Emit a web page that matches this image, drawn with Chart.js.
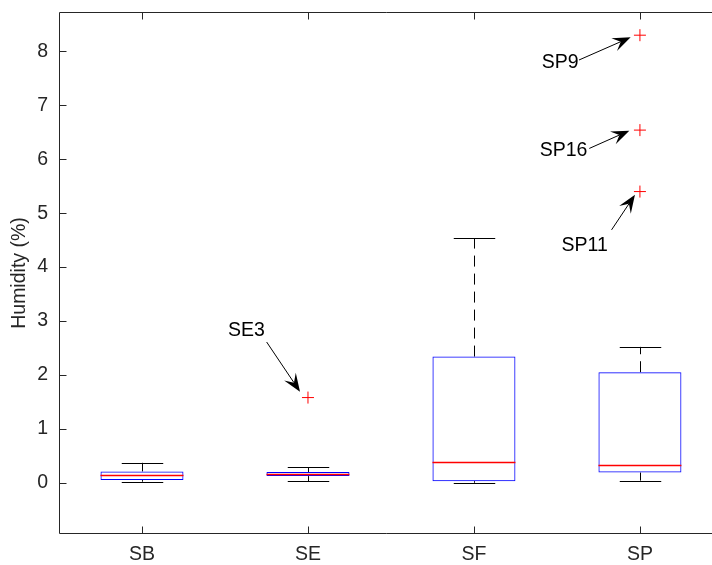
<!DOCTYPE html>
<html>
<head>
<meta charset="utf-8">
<script src="https://cdn.jsdelivr.net/npm/chart.js@4.4.1/dist/chart.umd.min.js"></script>
<style>
html,body{margin:0;padding:0;background:#fff;overflow:hidden;}
#wrap{width:712px;height:565px;}
</style>
</head>
<body>
<div id="wrap"><canvas id="c" width="712" height="565"></canvas></div>
<script>
// ---- data ----
const categories = ['SB', 'SE', 'SF', 'SP'];
const whiskerLow  = [0.02, 0.03, 0.00, 0.04];
const q1          = [0.05, 0.124, 0.03, 0.19];
const median      = [0.137, 0.167, 0.384, 0.33];
const q3          = [0.21, 0.20, 2.34, 2.05];
const whiskerHigh = [0.37, 0.286, 4.53, 2.52];
const outlierCat  = [1, 3, 3, 3];
const outlierVal  = [1.58, 8.30, 6.54, 5.40];
const yTickValues = [0, 1, 2, 3, 4, 5, 6, 7, 8];
// annotation labels (anchored in data coordinates)
const noteText  = ['SE3', 'SP9', 'SP16', 'SP11'];
const noteX     = [0.629, 2.52, 2.54, 2.667];
const noteY     = [2.84, 7.81, 6.17, 4.41];
const arrowX0   = [0.751, 2.633, 2.695, 2.829];
const arrowY0   = [2.61, 7.84, 6.20, 4.69];
const arrowX1   = [0.952, 2.944, 2.936, 2.97];
const arrowY1   = [1.69, 8.26, 6.53, 5.34];

const FAMILY = '"Liberation Sans", Arial, sans-serif';
const FONT = '19.5px ' + FAMILY;
const AX = '#262626';

const boxPlugin = {
  id: 'boxPlugin',
  beforeDatasetsDraw(chart) {
    const {ctx, scales: {x, y}} = chart;
    const u = x.getPixelForValue(1) - x.getPixelForValue(0);
    ctx.save();
    ctx.strokeStyle = '#000';
    ctx.lineWidth = 1;
    categories.forEach((c, i) => {
      const px = Math.round(x.getPixelForValue(i)) + 0.5;
      ctx.setLineDash([11, 7]);
      ctx.beginPath();
      ctx.moveTo(px, y.getPixelForValue(q3[i]));
      ctx.lineTo(px, y.getPixelForValue(whiskerHigh[i]));
      ctx.moveTo(px, y.getPixelForValue(q1[i]));
      ctx.lineTo(px, y.getPixelForValue(whiskerLow[i]));
      ctx.stroke();
      ctx.setLineDash([]);
      const hw = u * 0.125;
      [whiskerHigh[i], whiskerLow[i]].forEach(v => {
        const py = Math.round(y.getPixelForValue(v)) + 0.5;
        ctx.beginPath();
        ctx.moveTo(px - hw, py);
        ctx.lineTo(px + hw, py);
        ctx.stroke();
      });
    });
    ctx.restore();
  },
  afterDatasetsDraw(chart) {
    const {ctx, chartArea: a, scales: {x, y}} = chart;
    const u = x.getPixelForValue(1) - x.getPixelForValue(0);
    ctx.save();
    ctx.strokeStyle = '#ff0000';
    ctx.lineWidth = 1.3;
    categories.forEach((c, i) => {
      const px = x.getPixelForValue(i);
      const py = Math.round(y.getPixelForValue(median[i])) + 0.5;
      ctx.beginPath();
      ctx.moveTo(px - u * 0.25, py);
      ctx.lineTo(px + u * 0.25, py);
      ctx.stroke();
    });
    // frame (right edge lies outside the picture)
    ctx.strokeStyle = AX;
    ctx.lineWidth = 1;
    const L = Math.round(a.left) + 0.5, R = chart.width + 2;
    const T = Math.round(a.top) + 0.5, B = Math.round(a.bottom) - 0.5;
    ctx.beginPath();
    ctx.moveTo(R, T); ctx.lineTo(L, T); ctx.lineTo(L, B); ctx.lineTo(R, B);
    ctx.stroke();
    const tl = 7;
    ctx.beginPath();
    yTickValues.forEach(v => {
      const py = Math.round(y.getPixelForValue(v)) + 0.5;
      ctx.moveTo(L, py); ctx.lineTo(L + tl, py);
    });
    categories.forEach((c, i) => {
      const px = Math.round(x.getPixelForValue(i)) + 0.5;
      ctx.moveTo(px, B); ctx.lineTo(px, B - tl);
      ctx.moveTo(px, T); ctx.lineTo(px, T + tl);
    });
    ctx.stroke();
    // annotations
    ctx.fillStyle = '#000';
    ctx.strokeStyle = '#000';
    ctx.font = FONT;
    ctx.textAlign = 'center';
    ctx.textBaseline = 'middle';
    noteText.forEach((t, i) => {
      ctx.fillText(t, x.getPixelForValue(noteX[i]), y.getPixelForValue(noteY[i]) + 1);
      const x0 = x.getPixelForValue(arrowX0[i]), y0 = y.getPixelForValue(arrowY0[i]);
      const x1 = x.getPixelForValue(arrowX1[i]), y1 = y.getPixelForValue(arrowY1[i]);
      const ang = Math.atan2(y1 - y0, x1 - x0);
      const hl = 18, hwid = 7;
      const ca = Math.cos(ang), sa = Math.sin(ang);
      const bx = x1 - hl * ca, by = y1 - hl * sa;
      const nx = x1 - hl * 0.6 * ca, ny = y1 - hl * 0.6 * sa;
      ctx.lineWidth = 1;
      ctx.beginPath();
      ctx.moveTo(x0, y0);
      ctx.lineTo(nx, ny);
      ctx.stroke();
      ctx.beginPath();
      ctx.moveTo(x1, y1);
      ctx.lineTo(bx - hwid * sa, by + hwid * ca);
      ctx.lineTo(nx, ny);
      ctx.lineTo(bx + hwid * sa, by - hwid * ca);
      ctx.closePath();
      ctx.fill();
    });
    ctx.restore();
  }
};

new Chart(document.getElementById('c'), {
  type: 'bar',
  data: {
    datasets: [
      {
        type: 'bar',
        data: categories.map((c, i) => ({x: i, y: [q1[i], q3[i]]})),
        borderColor: '#0000ff',
        backgroundColor: 'rgba(0,0,0,0)',
        borderWidth: 1,
        borderSkipped: false,
        barPercentage: 0.5,
        categoryPercentage: 1,
        grouped: false
      },
      {
        type: 'scatter',
        data: outlierCat.map((c, i) => ({x: c, y: outlierVal[i]})),
        pointStyle: 'cross',
        radius: 6,
        borderColor: '#ff0000',
        borderWidth: 1,
        showLine: false
      }
    ]
  },
  options: {
    responsive: false,
    animation: false,
    devicePixelRatio: 1,
    layout: {padding: {left: 0, top: 12, right: 0, bottom: 0}},
    plugins: {legend: {display: false}, tooltip: {enabled: false}},
    scales: {
      x: {
        type: 'linear',
        min: -0.5,
        max: 3.392,
        offset: false,
        grid: {display: false, drawTicks: false},
        border: {display: false},
        afterBuildTicks: s => { s.ticks = categories.map((c, i) => ({value: i})); },
        afterFit: s => { s.height = 31; s.paddingLeft = 0; s.paddingRight = 0; },
        ticks: {
          autoSkip: false,
          maxRotation: 0,
          padding: 9,
          color: AX,
          font: {family: FAMILY, size: 19.5},
          callback: v => categories[v]
        }
      },
      y: {
        type: 'linear',
        min: -0.95,
        max: 8.73,
        grid: {display: false, drawTicks: false},
        border: {display: false},
        afterBuildTicks: s => { s.ticks = yTickValues.map(v => ({value: v})); },
        afterFit: s => { s.width = 59; s.paddingTop = 0; s.paddingBottom = 0; },
        ticks: {
          padding: 11,
          color: AX,
          font: {family: FAMILY, size: 19.5}
        },
        title: {
          display: true,
          text: 'Humidity (%)',
          color: AX,
          font: {family: FAMILY, size: 19.5},
          padding: {top: 8, bottom: 0}
        }
      }
    }
  },
  plugins: [boxPlugin]
});
</script>
</body>
</html>
